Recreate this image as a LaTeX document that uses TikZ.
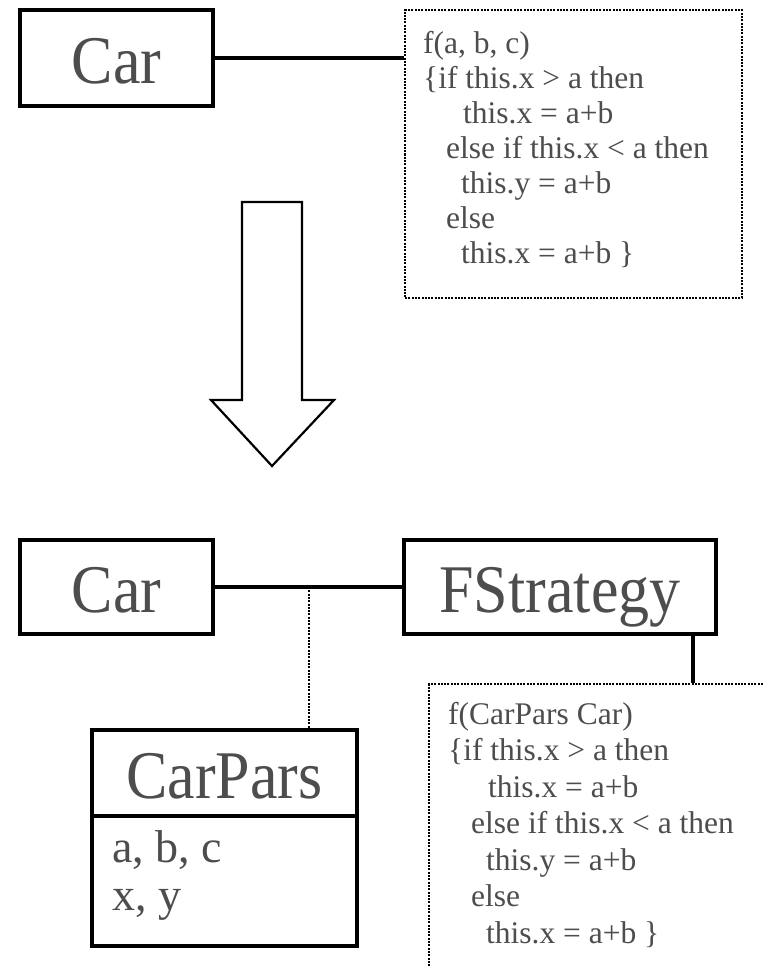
\documentclass[tikz,border=0pt]{standalone}
\usepackage{graphicx}
\usepackage{fontspec}
\setmainfont{Liberation Serif}
\definecolor{ink}{HTML}{4D4D4D}
% class names are set slightly taller than wide
\newcommand\tallname[1]{\scalebox{1}[1.1]{#1}}

\tikzset{
  cls/.style={draw=black, line width=3.2pt, fill=white, text=ink,
    font=\fontsize{62}{62}\selectfont, inner sep=0pt, outer sep=0pt,
    text height=50pt, text depth=0pt},
  note/.style={draw=black, line width=2.2pt, dash pattern=on 2pt off 1.3pt,
    inner sep=0pt},
  codeline/.style={anchor=base west, inner sep=0pt, text=ink,
    font=\fontsize{31.5}{35}\selectfont},
  attrline/.style={anchor=base west, inner sep=0pt, text=ink,
    font=\fontsize{46}{48}\selectfont},
  link/.style={line width=3.2pt},
  dotlink/.style={line width=2.2pt, dash pattern=on 2pt off 1.3pt},
}

\begin{document}
\begin{tikzpicture}[x=1pt, y=-1pt]
  \useasboundingbox (0,0) rectangle (763,967);
  \clip (0,0) rectangle (763,967);
  \fill[white] (0,0) rectangle (763,967);

  % --- before: Car with its method body inline ---
  \node[cls, minimum width=193pt, minimum height=96pt] (car) at (116.5,58) {\tallname{Car}};
  \node[note, minimum width=337pt, minimum height=288pt] (fnote) at (573.5,154) {};
  \draw[link] (car.east) -- (car.east -| fnote.west);

  \node[codeline] (fa1) at (423,53)  {f(a, b, c)};
  \node[codeline] (fa2) at (423,88)  {\{if this.x > a then};
  \node[codeline] (fa3) at (463,123) {this.x = a+b};
  \node[codeline] (fa4) at (446,158) {else if this.x < a then};
  \node[codeline] (fa5) at (461,193) {this.y = a+b};
  \node[codeline] (fa6) at (446,228) {else};
  \node[codeline] (fa7) at (461,263) {this.x = a+b \}};

  % --- refactoring arrow ---
  \draw[line width=2.2pt, fill=white, line join=miter]
    (242,202) -- (302,202) -- (302,400) -- (334,400) -- (272,466)
    -- (211,400) -- (242,400) -- cycle;

  % --- after: Car, strategy object and parameter class ---
  \node[cls, minimum width=193pt, minimum height=94pt] (car2) at (116.5,587) {\tallname{Car}};
  \node[cls, minimum width=312pt, minimum height=94pt] (strat) at (560,587) {\tallname{FStrategy}};
  \draw[link] (car2) -- (strat);

  \node[cls, minimum width=265pt, minimum height=86pt] (pars) at (224.5,773) {\tallname{CarPars}};
  \node[cls, minimum width=265pt, minimum height=130pt, anchor=north] (attrs) at (pars.south) {};
  \node[attrline] (abc) at (112,862) {a, b, c};
  \node[attrline] (xy)  at (112,910) {x, y};

  \coordinate (tap) at (309,587);
  \draw[dotlink] (tap) -- (tap |- pars.north);

  \node[note, anchor=north west, minimum width=360pt, minimum height=320pt] (snote) at (428,683) {};
  \draw[link] ([xshift=133pt]strat.south) -- ([xshift=133pt]strat.south |- snote.north);

  \node[codeline] (fb1) at (448,724)   {f(CarPars Car)};
  \node[codeline] (fb2) at (448,760.5) {\{if this.x > a then};
  \node[codeline] (fb3) at (488,797)   {this.x = a+b};
  \node[codeline] (fb4) at (471,833.5) {else if this.x < a then};
  \node[codeline] (fb5) at (486,870)   {this.y = a+b};
  \node[codeline] (fb6) at (471,906.5) {else};
  \node[codeline] (fb7) at (486,943)   {this.x = a+b \}};
\end{tikzpicture}
\end{document}
